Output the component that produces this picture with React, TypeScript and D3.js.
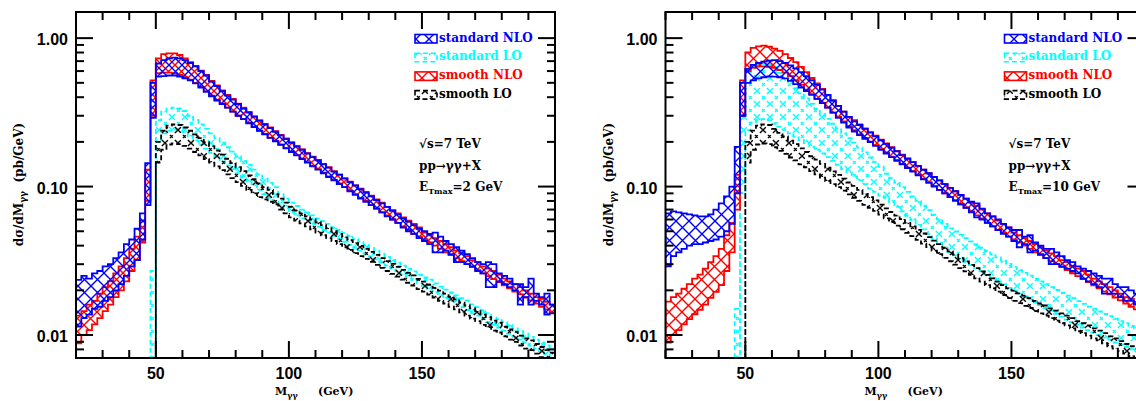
import React from 'react';
import * as d3 from 'd3';

// 2 GeV bins: NLO histograms cover 20..200, LO histograms start at 46 GeV
const nloFirstEdge = 20;
const loFirstEdge = 46;
const binWidth = 2;

// ---- E_Tmax = 2 GeV (left panel), pb/GeV ----
const stdNloHi2 = [
  0.0235, 0.025, 0.024, 0.026, 0.027, 0.029, 0.030, 0.033, 0.036, 0.041, 0.044, 0.052, 0.066,
  0.144, 0.50,
  0.675, 0.71, 0.73, 0.74, 0.73, 0.71, 0.68, 0.645, 0.60, 0.56, 0.51, 0.475, 0.44, 0.41, 0.385, 0.36, 0.335, 0.315, 0.295, 0.277, 0.262, 0.248, 0.234, 0.221, 0.209,
  0.197, 0.186, 0.177, 0.167, 0.158, 0.150, 0.141, 0.134, 0.126, 0.120, 0.113, 0.107, 0.102, 0.096, 0.091, 0.086, 0.081, 0.077, 0.073, 0.069, 0.065, 0.061, 0.058, 0.055, 0.052,
  0.050, 0.048, 0.049, 0.046, 0.043, 0.041, 0.039, 0.037, 0.035, 0.033, 0.031, 0.030, 0.031, 0.030, 0.026, 0.025, 0.024, 0.022, 0.022, 0.021, 0.024, 0.019, 0.018, 0.019, 0.016,
];
const stdNloLo2 = [
  0.0114, 0.013, 0.0137, 0.015, 0.0155, 0.017, 0.018, 0.020, 0.022, 0.025, 0.029, 0.032, 0.044,
  0.075, 0.29,
  0.55, 0.555, 0.56, 0.56, 0.55, 0.535, 0.52, 0.495, 0.465, 0.435, 0.405, 0.38, 0.36, 0.34, 0.32, 0.30, 0.285, 0.267, 0.252, 0.237, 0.225, 0.213, 0.202, 0.191, 0.181,
  0.171, 0.162, 0.153, 0.145, 0.137, 0.130, 0.123, 0.116, 0.110, 0.104, 0.099, 0.093, 0.088, 0.083, 0.079, 0.075, 0.071, 0.067, 0.063, 0.060, 0.057, 0.053, 0.050, 0.048, 0.045,
  0.043, 0.041, 0.036, 0.036, 0.037, 0.035, 0.031, 0.031, 0.030, 0.029, 0.027, 0.026, 0.021, 0.021, 0.023, 0.022, 0.021, 0.020, 0.016, 0.018, 0.016, 0.017, 0.016, 0.0137, 0.014,
];
const smNloHi2 = [
  0.0135, 0.0145, 0.016, 0.017, 0.019, 0.021, 0.023, 0.026, 0.029, 0.033, 0.038, 0.046, 0.059,
  0.13, 0.52,
  0.73, 0.78, 0.79, 0.79, 0.77, 0.73, 0.69, 0.65, 0.605, 0.565, 0.515, 0.48, 0.445, 0.415, 0.39, 0.362, 0.34, 0.318, 0.298, 0.28, 0.264, 0.25, 0.236, 0.223, 0.211,
  0.199, 0.188, 0.178, 0.168, 0.159, 0.151, 0.142, 0.135, 0.127, 0.121, 0.114, 0.108, 0.102, 0.097, 0.092, 0.087, 0.082, 0.078, 0.073, 0.069, 0.066, 0.062, 0.059, 0.056, 0.053,
  0.049, 0.047, 0.045, 0.043, 0.041, 0.039, 0.037, 0.0355, 0.034, 0.032, 0.031, 0.029, 0.028, 0.027, 0.0255, 0.024, 0.023, 0.022, 0.021, 0.020, 0.019, 0.018, 0.0175, 0.0167, 0.016,
];
const smNloLo2 = [
  0.0088, 0.0100, 0.0108, 0.0118, 0.013, 0.0145, 0.016, 0.018, 0.020, 0.023, 0.027, 0.032, 0.042,
  0.08, 0.30,
  0.58, 0.585, 0.585, 0.58, 0.565, 0.545, 0.525, 0.50, 0.47, 0.44, 0.41, 0.385, 0.362, 0.34, 0.32, 0.30, 0.285, 0.268, 0.253, 0.238, 0.226, 0.214, 0.203, 0.192, 0.182,
  0.172, 0.163, 0.154, 0.146, 0.138, 0.131, 0.124, 0.117, 0.111, 0.105, 0.099, 0.094, 0.089, 0.084, 0.080, 0.075, 0.071, 0.067, 0.064, 0.060, 0.057, 0.054, 0.051, 0.048, 0.046,
  0.044, 0.042, 0.040, 0.038, 0.036, 0.0346, 0.033, 0.0315, 0.030, 0.0287, 0.0274, 0.026, 0.0249, 0.0238, 0.0227, 0.0216, 0.0206, 0.0196, 0.0188, 0.0179, 0.0171, 0.0163, 0.0155, 0.0149, 0.0142,
];
const stdLoHi2 = [
  0.001, 0.027,
  0.28, 0.32, 0.335, 0.34, 0.336, 0.323, 0.30, 0.281, 0.262, 0.245, 0.228, 0.212, 0.198, 0.184, 0.172, 0.160, 0.149, 0.140, 0.130, 0.121, 0.113, 0.106, 0.099, 0.089, 0.083,
  0.078, 0.074, 0.070, 0.067, 0.064, 0.061, 0.0585, 0.056, 0.053, 0.051, 0.0485, 0.0465, 0.0443, 0.0424, 0.0404, 0.0386, 0.0369, 0.0352, 0.0336, 0.0321, 0.0307, 0.0293, 0.0279, 0.0268, 0.0255,
  0.0244, 0.0236, 0.0223, 0.0212, 0.0202, 0.0194, 0.0185, 0.0177, 0.0171, 0.0161, 0.0154, 0.0147, 0.0140, 0.0131, 0.0128, 0.0122, 0.0117, 0.0111, 0.0106, 0.0102, 0.0097, 0.0093, 0.0089, 0.0085, 0.0080,
];
const stdLoLo2 = [
  0.001, 0.001,
  0.20, 0.228, 0.238, 0.242, 0.24, 0.232, 0.218, 0.205, 0.192, 0.18, 0.169, 0.158, 0.148, 0.139, 0.131, 0.123, 0.115, 0.108, 0.102, 0.095, 0.089, 0.084, 0.079, 0.076, 0.071,
  0.067, 0.064, 0.061, 0.059, 0.056, 0.0535, 0.051, 0.049, 0.0465, 0.0445, 0.0425, 0.0405, 0.0387, 0.037, 0.0353, 0.0338, 0.0323, 0.0308, 0.0294, 0.0281, 0.0268, 0.0256, 0.0244, 0.0234, 0.0223,
  0.0213, 0.0203, 0.0194, 0.0185, 0.0177, 0.0169, 0.0162, 0.0154, 0.0147, 0.0140, 0.0135, 0.0128, 0.0122, 0.0117, 0.0112, 0.0107, 0.0102, 0.0097, 0.0093, 0.0089, 0.0085, 0.0081, 0.0078, 0.0074, 0.0070,
];
const smLoHi2 = [
  0.001, 0.001,
  0.20, 0.238, 0.257, 0.262, 0.26, 0.25, 0.238, 0.225, 0.212, 0.199, 0.187, 0.175, 0.164, 0.154, 0.144, 0.135, 0.127, 0.119, 0.112, 0.105, 0.099, 0.095, 0.089, 0.083, 0.078,
  0.073, 0.069, 0.066, 0.063, 0.060, 0.0575, 0.055, 0.0525, 0.050, 0.048, 0.0455, 0.0436, 0.0416, 0.0398, 0.038, 0.0363, 0.0347, 0.033, 0.0315, 0.0301, 0.0288, 0.0275, 0.0262, 0.0252, 0.0239,
  0.0229, 0.0218, 0.0208, 0.0199, 0.019, 0.0181, 0.0174, 0.0165, 0.0158, 0.0151, 0.0145, 0.0137, 0.0132, 0.0125, 0.0121, 0.0114, 0.0109, 0.0105, 0.0099, 0.0095, 0.0092, 0.0087, 0.0083, 0.0079, 0.0076,
];
const smLoLo2 = [
  0.001, 0.001,
  0.145, 0.177, 0.192, 0.195, 0.193, 0.188, 0.18, 0.171, 0.162, 0.153, 0.145, 0.137, 0.129, 0.121, 0.114, 0.107, 0.101, 0.095, 0.09, 0.085, 0.082, 0.079, 0.076, 0.070, 0.066,
  0.062, 0.059, 0.0565, 0.054, 0.0515, 0.049, 0.047, 0.045, 0.043, 0.041, 0.039, 0.0374, 0.0356, 0.034, 0.0326, 0.0311, 0.0297, 0.0283, 0.027, 0.0258, 0.0247, 0.0236, 0.0225, 0.0215, 0.0204,
  0.0196, 0.0187, 0.0179, 0.017, 0.0163, 0.0155, 0.0149, 0.0142, 0.0135, 0.0129, 0.0124, 0.0117, 0.0113, 0.0107, 0.0104, 0.0098, 0.0093, 0.009, 0.0085, 0.0081, 0.0079, 0.0075, 0.0071, 0.0068, 0.0065,
];

// ---- E_Tmax = 10 GeV (right panel), pb/GeV ----
const stdNloHi10 = [
  0.066, 0.068, 0.067, 0.066, 0.065, 0.064, 0.063, 0.063, 0.065, 0.070, 0.077, 0.086, 0.100,
  0.185, 0.50,
  0.62, 0.66, 0.68, 0.695, 0.705, 0.71, 0.70, 0.68, 0.655, 0.625, 0.59, 0.555, 0.52, 0.485, 0.45, 0.415, 0.38, 0.35, 0.32, 0.295, 0.275, 0.26, 0.245, 0.231, 0.218,
  0.205, 0.194, 0.183, 0.173, 0.163, 0.154, 0.146, 0.138, 0.13, 0.123, 0.116, 0.11, 0.104, 0.098, 0.093, 0.088, 0.083, 0.079, 0.077, 0.071, 0.066, 0.063, 0.06, 0.056, 0.053,
  0.051, 0.051, 0.046, 0.047, 0.042, 0.040, 0.038, 0.038, 0.036, 0.034, 0.032, 0.031, 0.029, 0.028, 0.027, 0.026, 0.025, 0.024, 0.024, 0.022, 0.021, 0.021, 0.020, 0.019, 0.018,
];
const stdNloLo10 = [
  0.029, 0.034, 0.036, 0.038, 0.040, 0.041, 0.041, 0.042, 0.043, 0.044, 0.046, 0.050, 0.056,
  0.09, 0.30,
  0.50, 0.52, 0.535, 0.545, 0.55, 0.55, 0.545, 0.535, 0.515, 0.49, 0.465, 0.44, 0.415, 0.39, 0.365, 0.34, 0.315, 0.29, 0.27, 0.25, 0.235, 0.222, 0.21, 0.199, 0.188,
  0.177, 0.167, 0.158, 0.149, 0.141, 0.133, 0.126, 0.119, 0.112, 0.106, 0.1, 0.095, 0.09, 0.085, 0.08, 0.076, 0.072, 0.067, 0.062, 0.06, 0.057, 0.054, 0.051, 0.048, 0.046,
  0.043, 0.039, 0.041, 0.036, 0.037, 0.035, 0.033, 0.030, 0.030, 0.029, 0.028, 0.027, 0.026, 0.024, 0.023, 0.022, 0.021, 0.019, 0.019, 0.019, 0.018, 0.017, 0.017, 0.016, 0.015,
];
const smNloHi10 = [
  0.0168, 0.018, 0.019, 0.0205, 0.022, 0.024, 0.0255, 0.028, 0.031, 0.034, 0.038, 0.047, 0.057,
  0.12, 0.52,
  0.80, 0.86, 0.88, 0.89, 0.875, 0.85, 0.82, 0.78, 0.735, 0.69, 0.64, 0.59, 0.54, 0.495, 0.455, 0.415, 0.38, 0.35, 0.32, 0.295, 0.28, 0.262, 0.247, 0.233, 0.22,
  0.207, 0.195, 0.184, 0.174, 0.164, 0.155, 0.146, 0.138, 0.13, 0.123, 0.116, 0.11, 0.104, 0.098, 0.093, 0.088, 0.083, 0.078, 0.074, 0.07, 0.066, 0.063, 0.059, 0.056, 0.053,
  0.049, 0.047, 0.045, 0.043, 0.041, 0.039, 0.037, 0.0355, 0.034, 0.032, 0.031, 0.029, 0.028, 0.027, 0.0255, 0.024, 0.023, 0.022, 0.021, 0.020, 0.019, 0.018, 0.0175, 0.0167, 0.016,
];
const smNloLo10 = [
  0.0089, 0.0100, 0.0108, 0.0118, 0.0128, 0.0138, 0.0148, 0.016, 0.0178, 0.0195, 0.0217, 0.027, 0.036,
  0.07, 0.30,
  0.60, 0.63, 0.645, 0.645, 0.64, 0.63, 0.61, 0.585, 0.555, 0.52, 0.485, 0.45, 0.42, 0.39, 0.365, 0.34, 0.315, 0.295, 0.275, 0.255, 0.24, 0.225, 0.213, 0.201, 0.19,
  0.179, 0.169, 0.159, 0.151, 0.142, 0.134, 0.127, 0.12, 0.113, 0.107, 0.101, 0.095, 0.09, 0.085, 0.081, 0.076, 0.072, 0.068, 0.064, 0.061, 0.057, 0.054, 0.051, 0.049, 0.046,
  0.044, 0.042, 0.040, 0.038, 0.036, 0.0346, 0.033, 0.0315, 0.030, 0.0287, 0.0274, 0.026, 0.0249, 0.0238, 0.0227, 0.0216, 0.0206, 0.0196, 0.0188, 0.0179, 0.0171, 0.0163, 0.0155, 0.0149, 0.0142,
];
const stdLoHi10 = [
  0.015, 0.30,
  0.62, 0.66, 0.67, 0.67, 0.665, 0.64, 0.584, 0.539, 0.497, 0.46, 0.425, 0.392, 0.361, 0.334, 0.307, 0.286, 0.265, 0.246, 0.228, 0.212, 0.198, 0.183, 0.170, 0.157, 0.146,
  0.136, 0.122, 0.114, 0.106, 0.099, 0.092, 0.086, 0.080, 0.0744, 0.0694, 0.0646, 0.0602, 0.0561, 0.0523, 0.0498, 0.0473, 0.045, 0.0428, 0.0407, 0.0387, 0.0368, 0.035, 0.0333, 0.0317, 0.0301,
  0.0287, 0.0274, 0.0262, 0.0251, 0.024, 0.023, 0.022, 0.021, 0.0201, 0.0193, 0.0184, 0.0177, 0.0169, 0.0162, 0.0155, 0.015, 0.0144, 0.0139, 0.0134, 0.0129, 0.0124, 0.012, 0.0115, 0.0111, 0.0107,
];
const stdLoLo10 = [
  0.001, 0.09,
  0.24, 0.27, 0.28, 0.285, 0.28, 0.265, 0.253, 0.241, 0.228, 0.217, 0.206, 0.196, 0.186, 0.177, 0.167, 0.158, 0.149, 0.14, 0.131, 0.124, 0.117, 0.11, 0.104, 0.097, 0.092,
  0.087, 0.084, 0.0785, 0.073, 0.068, 0.0636, 0.0593, 0.0552, 0.0515, 0.048, 0.0447, 0.0417, 0.0388, 0.0362, 0.0344, 0.0327, 0.0311, 0.0296, 0.0281, 0.0268, 0.0255, 0.0242, 0.023, 0.0219, 0.0208,
  0.0198, 0.019, 0.0182, 0.0174, 0.0166, 0.0159, 0.0152, 0.0146, 0.0139, 0.0133, 0.0127, 0.0122, 0.0117, 0.0112, 0.0108, 0.0104, 0.01, 0.0096, 0.0093, 0.0089, 0.0086, 0.0083, 0.008, 0.0077, 0.0074,
];
const smLoHi10 = [
  0.001, 0.001,
  0.20, 0.238, 0.257, 0.262, 0.26, 0.245, 0.23, 0.2175, 0.204, 0.193, 0.181, 0.171, 0.16, 0.152, 0.142, 0.134, 0.1265, 0.12, 0.113, 0.1065, 0.101, 0.095, 0.0894, 0.085, 0.0807,
  0.0756, 0.0713, 0.0674, 0.0637, 0.0603, 0.057, 0.054, 0.0511, 0.0483, 0.0457, 0.0432, 0.0409, 0.0387, 0.0366, 0.0348, 0.0329, 0.0313, 0.0297, 0.0282, 0.0268, 0.0254, 0.0241, 0.0229, 0.0217, 0.0206,
  0.0199, 0.0191, 0.0184, 0.0177, 0.017, 0.0163, 0.0158, 0.0151, 0.0146, 0.014, 0.0135, 0.013, 0.0124, 0.012, 0.0116, 0.0111, 0.0107, 0.0103, 0.0098, 0.0095, 0.0091, 0.0087, 0.0084, 0.0081, 0.0078,
];
const smLoLo10 = [
  0.001, 0.001,
  0.145, 0.177, 0.192, 0.195, 0.193, 0.184, 0.174, 0.166, 0.157, 0.15, 0.141, 0.135, 0.127, 0.121, 0.115, 0.109, 0.104, 0.099, 0.094, 0.0885, 0.084, 0.08, 0.0754, 0.072, 0.0685,
  0.0648, 0.061, 0.0577, 0.0546, 0.0516, 0.0488, 0.0463, 0.0438, 0.0413, 0.0391, 0.037, 0.0351, 0.0331, 0.0314, 0.0298, 0.0282, 0.0268, 0.0254, 0.0241, 0.0229, 0.0217, 0.0206, 0.0196, 0.0186, 0.0177,
  0.017, 0.0164, 0.0157, 0.0152, 0.0145, 0.014, 0.0135, 0.013, 0.0125, 0.012, 0.0116, 0.0111, 0.0106, 0.0103, 0.0099, 0.0095, 0.0092, 0.0088, 0.0084, 0.0081, 0.0078, 0.0075, 0.0072, 0.0069, 0.0067,
];

const legendLabels = ['standard NLO', 'standard LO', 'smooth NLO', 'smooth LO'];
const xTickLabels = [50, 100, 150];
const yTickValues = [1, 0.1, 0.01];
const yTickLabels = ['1.00', '0.10', '0.01'];
const etMaxLabels = ['2', '10'];

// layout
const W = 1136;
const H = 401;
const plotW = 479;
const plotTop = 12;
const plotBottom = 358;
const panelLefts = [76, 665.5];

const tickFont = '"Liberation Sans", Arial, sans-serif';
const textFont = '"DejaVu Serif", serif';

const styles = [
  { key: 'stdNlo', color: '#0000ff', dashed: false },
  { key: 'stdLo', color: '#00ffff', dashed: true },
  { key: 'smNlo', color: '#ff0000', dashed: false },
  { key: 'smLo', color: '#000000', dashed: true },
];

// band = upper step edge left->right, lower step edge back
function bandPath(x, y, first, hi, lo) {
  const up = hi.flatMap((v, k) => {
    const e = first + k * binWidth;
    return [[x(e), y(v)], [x(e + binWidth), y(v)]];
  });
  const down = lo
    .flatMap((v, k) => {
      const e = first + k * binWidth;
      return [[x(e), y(v)], [x(e + binWidth), y(v)]];
    })
    .reverse();
  return d3.line()([...up, ...down]) + 'Z';
}

function Hatch({ id, color, dashed, dx }) {
  return (
    <pattern id={id} patternUnits="userSpaceOnUse" width={13} height={13} x={dx} y={0}>
      <path
        d="M0,0L13,13M0,13L13,0"
        stroke={color}
        strokeWidth={1.4}
        strokeDasharray={dashed ? '4 3' : undefined}
        fill="none"
      />
    </pattern>
  );
}

function Panel({ idx, bands }) {
  const left = panelLefts[idx];
  const x = d3.scaleLinear().domain([20, 200]).range([left, left + plotW]);
  const y = d3.scaleLog().domain([0.007, 1.5]).range([plotBottom, plotTop]);

  const xMinor = d3.range(20, 200, 10).filter((v) => v % 50 !== 0);
  const yMinor = [0.001, 0.01, 0.1]
    .flatMap((d) => d3.range(2, 10).map((k) => k * d))
    .filter((v) => v > 0.0069 && v < 1.5);

  // cyan, black under the NLO bands
  const order = [1, 3, 2, 0];
  const clipId = `clip${idx}`;

  return (
    <g>
      <clipPath id={clipId}>
        <rect x={left} y={plotTop} width={plotW} height={plotBottom - plotTop} />
      </clipPath>

      <g clipPath={`url(#${clipId})`}>
        {order.map((s) => {
          const b = bands[s];
          const st = styles[s];
          return (
            <path
              key={s}
              d={bandPath(x, y, b.first, b.hi, b.lo)}
              fill={`url(#hatch-${st.key})`}
              stroke={st.color}
              strokeWidth={1.8}
              strokeDasharray={st.dashed ? '5 3' : undefined}
              strokeLinejoin="miter"
            />
          );
        })}
      </g>

      {/* frame */}
      <rect x={left} y={plotTop} width={plotW} height={plotBottom - plotTop} fill="none" stroke="#000" strokeWidth={2} />

      {/* x ticks top & bottom */}
      {xMinor.map((v) => (
        <g key={`xm${v}`} stroke="#000" strokeWidth={2}>
          <line x1={x(v)} x2={x(v)} y1={plotBottom} y2={plotBottom - 8} />
          <line x1={x(v)} x2={x(v)} y1={plotTop} y2={plotTop + 8} />
        </g>
      ))}
      {xTickLabels.map((v) => (
        <g key={`xM${v}`}>
          <line x1={x(v)} x2={x(v)} y1={plotBottom} y2={plotBottom - 17} stroke="#000" strokeWidth={2} />
          <line x1={x(v)} x2={x(v)} y1={plotTop} y2={plotTop + 17} stroke="#000" strokeWidth={2} />
          <text x={x(v)} y={378.5} textAnchor="middle" fontFamily={tickFont} fontWeight="bold" fontSize={16}>
            {v}
          </text>
        </g>
      ))}

      {/* y ticks left & right */}
      {yMinor.map((v) => (
        <g key={`ym${v}`} stroke="#000" strokeWidth={2}>
          <line x1={left} x2={left + 8} y1={y(v)} y2={y(v)} />
          <line x1={left + plotW} x2={left + plotW - 8} y1={y(v)} y2={y(v)} />
        </g>
      ))}
      {yTickValues.map((v, i) => (
        <g key={`yM${v}`}>
          <line x1={left} x2={left + 17} y1={y(v)} y2={y(v)} stroke="#000" strokeWidth={2} />
          <line x1={left + plotW} x2={left + plotW - 17} y1={y(v)} y2={y(v)} stroke="#000" strokeWidth={2} />
          <text x={left - 8} y={y(v) + 7} textAnchor="end" fontFamily={tickFont} fontWeight="bold" fontSize={16}>
            {yTickLabels[i]}
          </text>
        </g>
      ))}

      {/* axis titles */}
      <text x={left + 199} y={395} fontFamily={textFont} fontWeight="bold" fontSize={11}>
        M<tspan dy={3} fontSize={8}>γγ</tspan>
      </text>
      <text x={left + 242} y={395} fontFamily={textFont} fontWeight="bold" fontSize={11}>
        (GeV)
      </text>
      <text
        transform={`translate(${left - 53},184.5) rotate(-90)`}
        textAnchor="middle"
        fontFamily={textFont}
        fontWeight="bold"
        fontSize={12}
      >
        dσ/dM<tspan dy={3} fontSize={9}>γγ</tspan>
        <tspan dy={-3}>{'\u00a0 (pb/GeV)'}</tspan>
      </text>

      {/* legend */}
      {legendLabels.map((label, i) => {
        const st = styles[i];
        const base = 41.5 + i * 18.7;
        return (
          <g key={label}>
            <rect
              x={left + 339}
              y={base - 7}
              width={22}
              height={8.5}
              fill={`url(#hatch-${st.key})`}
              stroke={st.color}
              strokeWidth={1.6}
              strokeDasharray={st.dashed ? '5 3' : undefined}
            />
            <text x={left + 363} y={base} fill={st.color} fontFamily={textFont} fontWeight="bold" fontSize={12}>
              {label}
            </text>
          </g>
        );
      })}

      {/* process info */}
      <g fontFamily={textFont} fontWeight="bold" fontSize={12}>
        <text x={left + 343} y={148}>√s=7 TeV</text>
        <text x={left + 343} y={170}>pp→γγ+X</text>
        <text x={left + 343} y={191}>
          E<tspan dy={3} fontSize={8}>Tmax</tspan>
          <tspan dy={-3}>={etMaxLabels[idx]} GeV</tspan>
        </text>
      </g>
    </g>
  );
}

export default function App() {
  const panels = [
    [
      { first: nloFirstEdge, hi: stdNloHi2, lo: stdNloLo2 },
      { first: loFirstEdge, hi: stdLoHi2, lo: stdLoLo2 },
      { first: nloFirstEdge, hi: smNloHi2, lo: smNloLo2 },
      { first: loFirstEdge, hi: smLoHi2, lo: smLoLo2 },
    ],
    [
      { first: nloFirstEdge, hi: stdNloHi10, lo: stdNloLo10 },
      { first: loFirstEdge, hi: stdLoHi10, lo: stdLoLo10 },
      { first: nloFirstEdge, hi: smNloHi10, lo: smNloLo10 },
      { first: loFirstEdge, hi: smLoHi10, lo: smLoLo10 },
    ],
  ];

  return (
    <svg
      width={W}
      height={H}
      viewBox={`0 0 ${W} ${H}`}
      style={{ position: 'absolute', left: 0, top: 0, background: '#fff' }}
    >
      <defs>
        <Hatch id="hatch-stdNlo" color={styles[0].color} dashed={false} dx={0} />
        <Hatch id="hatch-stdLo" color={styles[1].color} dashed={true} dx={3} />
        <Hatch id="hatch-smNlo" color={styles[2].color} dashed={false} dx={6} />
        <Hatch id="hatch-smLo" color={styles[3].color} dashed={true} dx={9} />
      </defs>
      <rect width={W} height={H} fill="#fff" />
      {panels.map((bands, i) => (
        <Panel key={i} idx={i} bands={bands} />
      ))}
    </svg>
  );
}
